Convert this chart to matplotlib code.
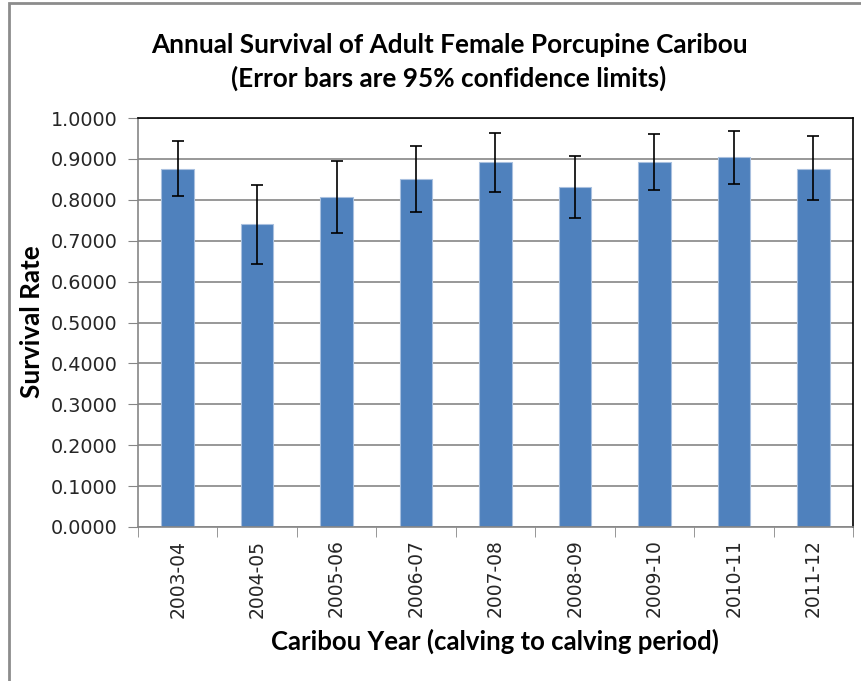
import matplotlib
matplotlib.use("Agg")
import matplotlib.pyplot as plt
from matplotlib.patches import Rectangle
import numpy as np

years = ["2003-04", "2004-05", "2005-06", "2006-07", "2007-08",
         "2008-09", "2009-10", "2010-11", "2011-12"]
survival = [0.875, 0.740, 0.808, 0.851, 0.892, 0.832, 0.892, 0.905, 0.875]
ci_upper = [0.944, 0.836, 0.896, 0.931, 0.964, 0.907, 0.961, 0.969, 0.956]
ci_lower = [0.809, 0.643, 0.720, 0.771, 0.820, 0.755, 0.823, 0.839, 0.799]

bold_font = "Lato"
tick_font = "DejaVu Sans"
grid_grey = "#868686"

fig = plt.figure(figsize=(8.62, 6.81), dpi=100)
fig.patches.append(Rectangle((9 / 862, -0.1), 1.2, 1.1 - 3 / 681,
                             transform=fig.transFigure, fill=False,
                             edgecolor="#8c8c8c", linewidth=2))

ax = fig.add_axes([138 / 862, 1 - 527 / 681, (853 - 138) / 862, (527 - 118) / 681])

x = np.arange(len(years))
vals = np.array(survival)
yerr = [vals - np.array(ci_lower), np.array(ci_upper) - vals]
ax.bar(x, vals, width=0.41, color="#4f81bd", edgecolor="#a9c0df", linewidth=0.8,
       zorder=2)
ax.errorbar(x, vals, yerr=yerr, fmt="none", ecolor="black", elinewidth=1.2,
            capsize=4, capthick=1.2, zorder=3)

ax.set_xlim(-0.5, len(years) - 0.5)
ax.set_ylim(0, 1.0)
ax.set_yticks(np.arange(0, 1.01, 0.1))
ax.set_yticklabels([f"{v:.4f}" for v in np.arange(0, 1.01, 0.1)],
                   fontsize=13.8, family=tick_font, color="#262626")
ax.yaxis.grid(True, color=grid_grey, linewidth=1.2, zorder=0)
ax.set_axisbelow(True)
ax.tick_params(axis="y", length=7, color=grid_grey, pad=8)

ax.set_xticks(x)
ax.set_xticklabels(years, rotation=90, fontsize=13.5, family=tick_font,
                   color="#262626")
ax.tick_params(axis="x", which="major", length=0, pad=9)
ax.set_xticks(np.arange(-0.5, len(years), 1), minor=True)
ax.tick_params(axis="x", which="minor", length=7, color=grid_grey)

for side in ("left", "bottom"):
    ax.spines[side].set_color(grid_grey)
    ax.spines[side].set_linewidth(1.2)
for side in ("top", "right"):
    ax.spines[side].set_color("black")
    ax.spines[side].set_linewidth(1.2)

fig.text(449 / 862, 1 - 45 / 681, "Annual Survival of Adult Female Porcupine Caribou",
         ha="center", va="center", fontsize=18.8, fontweight="bold", family=bold_font)
fig.text(449 / 862, 1 - 78 / 681, "(Error bars are 95% confidence limits)",
         ha="center", va="center", fontsize=18.8, fontweight="bold", family=bold_font)
fig.text(495 / 862, 1 - 641 / 681, "Caribou Year (calving to calving period)",
         ha="center", va="center", fontsize=18.5, fontweight="bold", family=bold_font)
fig.text(32 / 862, 1 - 322 / 681, "Survival Rate", rotation=90,
         ha="center", va="center", fontsize=18.8, fontweight="bold", family=bold_font)

fig.savefig("out.png", dpi=100)
plt.close(fig)
